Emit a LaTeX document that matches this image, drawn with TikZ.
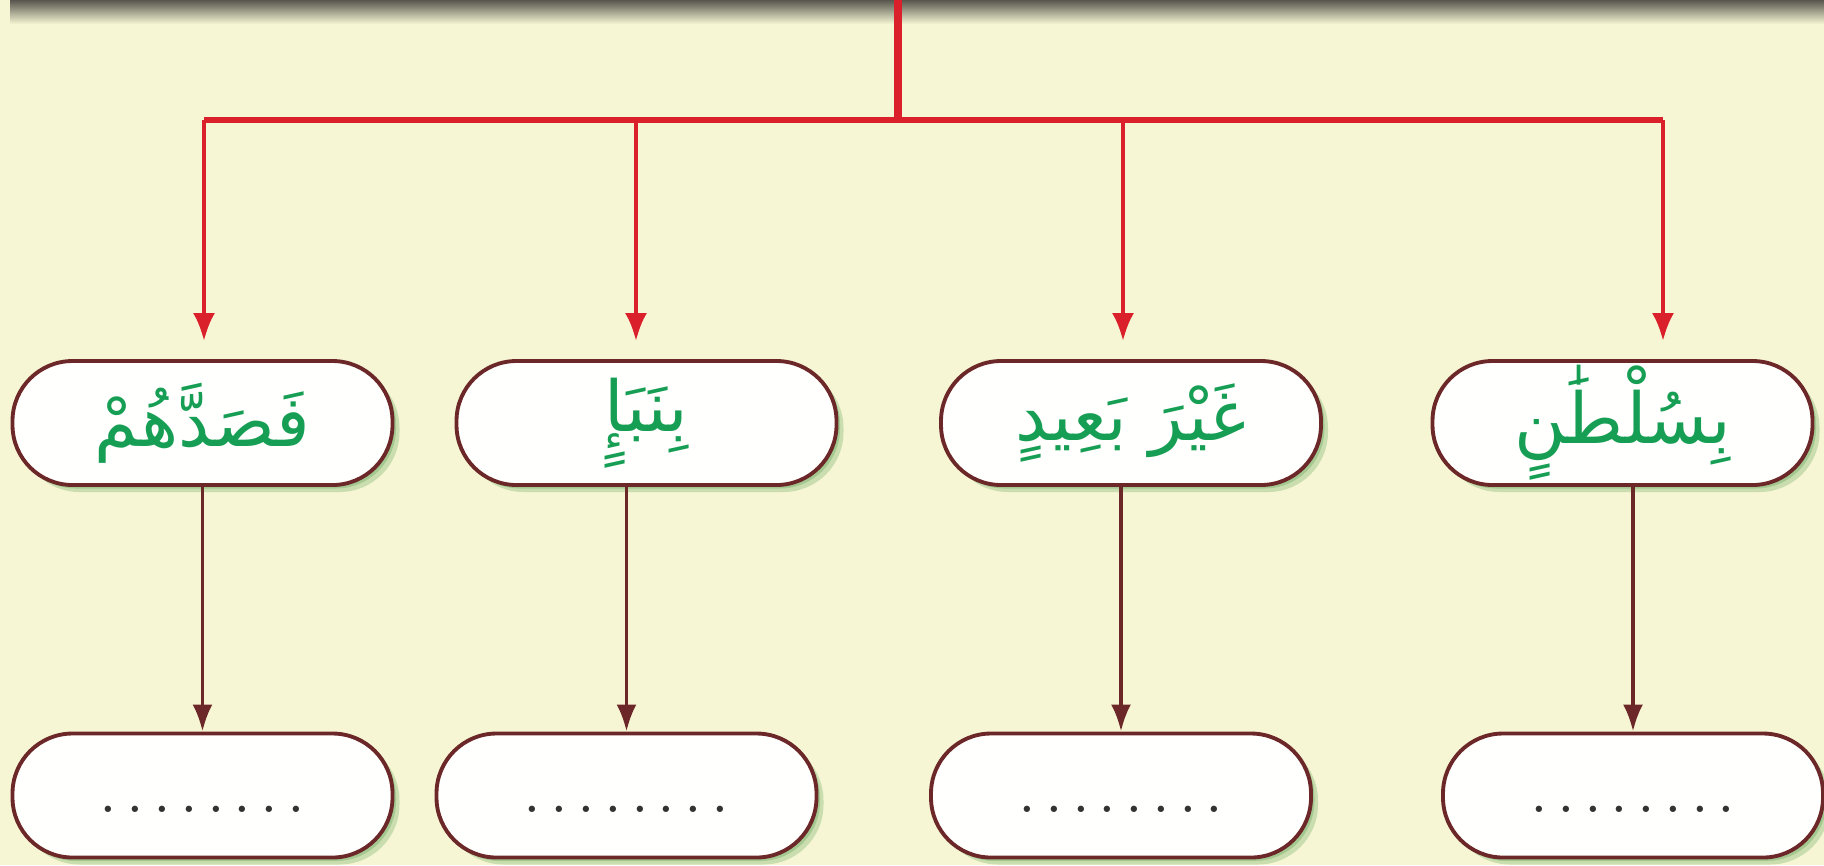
\documentclass[tikz,border=0pt]{standalone}
\usepackage{fontspec}
\usetikzlibrary{arrows.meta,shadows}
\newfontfamily\arabicfont[Script=Arabic]{DejaVu Sans}
\TeXXeTstate=1

\definecolor{paper}{RGB}{246,246,212}
\definecolor{band}{RGB}{88,86,78}
\definecolor{redline}{RGB}{218,32,42}
\definecolor{boxline}{RGB}{108,40,40}
\definecolor{wordgreen}{RGB}{22,158,84}
\definecolor{halo}{RGB}{118,176,108}

\newcommand{\dotrow}{.\kern3.7pt.\kern3.7pt.\kern3.7pt.\kern3.7pt.\kern3.7pt.\kern3.7pt.\kern3.7pt.}

\tikzset{
  wordbox/.style={draw=boxline, line width=1.1pt, fill=white!96!paper,
    rounded corners=0.6cm, minimum width=3.8cm, minimum height=1.24cm, inner sep=0pt,
    drop shadow={shadow xshift=0.07cm, shadow yshift=-0.07cm, fill=halo, opacity=0.35},
    drop shadow={shadow xshift=0.035cm, shadow yshift=-0.035cm, fill=halo, opacity=0.45}},
  arabic/.style={font=\arabicfont\fontsize{20}{24}\selectfont, text=wordgreen},
  blank/.style={font=\fontsize{12.5}{14}\selectfont\bfseries, text=black!80, text height=9.6pt, text depth=0pt},
  redarrow/.style={draw=redline, line width=1.2pt, -{Latex[length=0.28cm,width=0.22cm]}, shorten >=0.18cm},
  brownarrow/.style={draw=boxline, line width=1.1pt, -{Latex[length=0.27cm,width=0.2cm]}}
}

\begin{document}
\begin{tikzpicture}
  \useasboundingbox (0,0) rectangle (18.24,-8.65);
  \fill[paper] (0,0) rectangle (18.24,-8.65);
  % shadow of the box above
  \shade[top color=band, bottom color=paper] (0.1,0) rectangle (18.24,-0.24);

  % words
  \node[wordbox, arabic] (n1) at (2.025,-4.23) {\beginR فَصَدَّهُمْ\endR};
  \node[wordbox, arabic] (n2) at (6.465,-4.23) {\beginR بِنَبَإٍ\endR};
  \node[wordbox, arabic] (n3) at (11.31,-4.23) {\beginR غَيْرَ بَعِيدٍ\endR};
  \node[wordbox, arabic] (n4) at (16.225,-4.23) {\beginR بِسُلْطَٰنٍ\endR};

  % answers
  \foreach \i/\x in {1/2.025, 2/6.265, 3/11.21, 4/16.33} {
    \node[wordbox, blank] (b\i) at (\x,-7.955) {\dotrow};
    \draw[brownarrow] (b\i.north |- n\i.south) -- (b\i.north);
  };

  % red tree
  \coordinate (top) at (8.98,0);
  \foreach \i/\x in {1/2.04, 2/6.36, 3/11.23, 4/16.63} {
    \coordinate (r\i) at (\x,-1.2);
    \draw[redarrow] (r\i) -- (r\i |- n\i.north);
  };
  \draw[redline, line width=1.5pt] (r1) -- (r4);
  \draw[redline, line width=2pt] (top) -- (top |- r1);
\end{tikzpicture}
\end{document}
